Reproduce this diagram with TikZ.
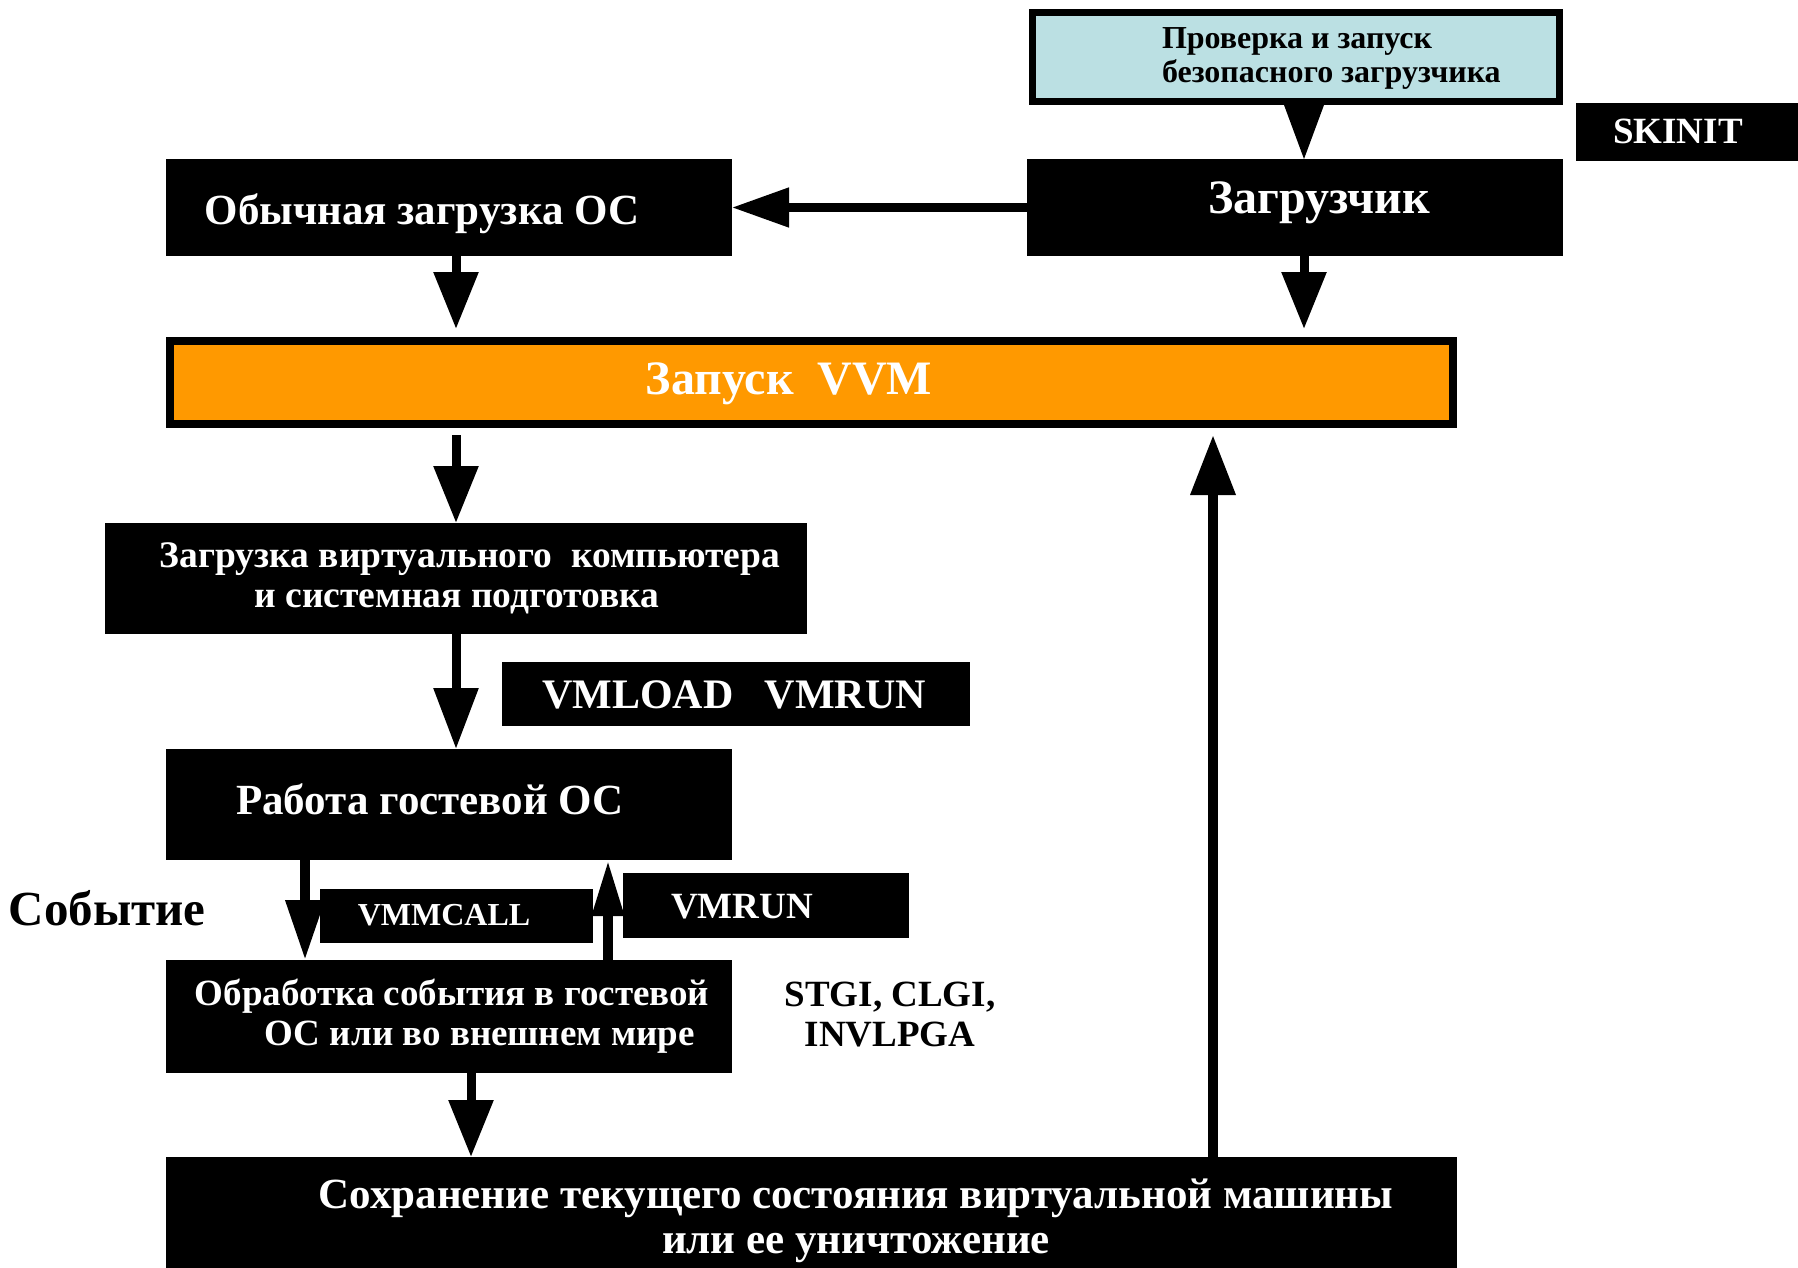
\documentclass[tikz,border=0pt]{standalone}
\usepackage{fontspec}
\setmainfont{Liberation Serif}
\usetikzlibrary{arrows.meta}
\definecolor{cyanbox}{RGB}{187,224,227}
\definecolor{orng}{RGB}{255,153,0}
\begin{document}
\begin{tikzpicture}[x=1pt,y=-1pt,
  box/.style={fill=black, draw=none, inner sep=0pt, outer sep=0pt, anchor=north west},
  wt/.style={text=white, inner sep=0pt, outer sep=0pt},
  bt/.style={text=black, inner sep=0pt, outer sep=0pt},
  arr/.style={line width=9pt, -{Triangle[length=57pt,width=43pt]}},
  fs/.style 2 args={font=\bfseries\fontsize{#1}{#2}\selectfont}
]
\useasboundingbox (0,0) rectangle (1798,1268);

% boxes
\node[box, fill=cyanbox, draw=black, line width=7pt, minimum width=527pt, minimum height=89pt] (cyanb) at (1032.5,12.5) {};
\node[box, minimum width=536pt, minimum height=97pt] (zag) at (1027,159) {};
\node[box, minimum width=566pt, minimum height=97pt] (obos) at (166,159) {};
\node[box, minimum width=222pt, minimum height=58pt] (skinit) at (1576,103) {};
\node[box, fill=orng, draw=black, line width=8pt, minimum width=1283pt, minimum height=83pt] (vvm) at (170,341) {};
\node[box, minimum width=702pt, minimum height=111pt] (zvk) at (105,523) {};
\node[box, minimum width=468pt, minimum height=64pt] (vmload) at (502,662) {};
\node[box, minimum width=566pt, minimum height=111pt] (rabota) at (166,749) {};
\node[box, minimum width=273pt, minimum height=54pt] (vmmcall) at (320,889) {};
\node[box, minimum width=286pt, minimum height=65pt] (vmrun) at (623,873) {};
\node[box, minimum width=566pt, minimum height=113pt] (obr) at (166,960) {};
\node[box, minimum width=1291pt, minimum height=111pt] (sohr) at (166,1157) {};

% texts
\node[bt, fs={32}{34}, align=left, anchor=west] (tcyan) at (1162,58.5) {Проверка и запуск\\безопасного загрузчика};
\node[wt, fs={48}{48}] (tzag) at (1319,203) {Загрузчик};
\node[wt, fs={43}{43}] (tobos) at (422,213.5) {Обычная загрузка ОС};
\node[wt, fs={37}{37}] (tskinit) at (1678,131) {SKINIT};
\node[wt, fs={48}{48}] (tvvm) at (789,384) {Запуск\hspace{0.5em}VVM};
\node[wt, fs={37.5}{40}, align=center] (tzvk) at (470,578.5) {Загрузка виртуального\hspace{0.5em}компьютера\\и системная подготовка\hspace*{26pt}};
\node[wt, fs={42}{42}] (tvmload) at (734,695) {VMLOAD\hspace{0.75em}VMRUN};
\node[wt, fs={43}{43}] (trabota) at (430,799) {Работа гостевой ОС};
\node[wt, fs={32}{32}] (tvmmcall) at (444,915) {VMMCALL};
\node[wt, fs={37}{37}] (tvmrun) at (742,907) {VMRUN};
\node[bt, fs={49}{49}] (tsob) at (107,908) {Событие};
\node[wt, fs={37}{40}, align=center] (tobr) at (452,1016.5) {Обработка события в гостевой\\\hspace{1.5em}ОС или во внешнем мире};
\node[bt, fs={37}{40}, align=center] (tstgi) at (890,1015) {STGI, CLGI,\\INVLPGA};
\node[wt, fs={43}{45}, align=center] (tsohr) at (856,1220.5) {Сохранение текущего состояния виртуальной машины\\или ее уничтожение};

% arrows
\fill ([xshift=-12pt,yshift=-3.5pt]cyanb.south) -- ([xshift=28pt,yshift=-3.5pt]cyanb.south) -- ([xshift=9pt]zag.north) -- cycle;
\draw[line width=8pt, -{Triangle[length=57pt,width=38pt]}] (zag.west) -- (obos.east);
\draw[arr] ([xshift=7pt]obos.south) -- ([xshift=7pt,yshift=12pt]obos.south |- vvm.north);
\draw[arr] ([xshift=9pt]zag.south) -- ([xshift=9pt,yshift=12pt]zag.south |- vvm.north);
\draw[arr] ([yshift=-11pt]zvk.north |- vvm.south) -- (zvk.north);
\draw[arr, -{Triangle[length=61pt,width=43pt]}] (zvk.south) -- (zvk.south |- rabota.north);
\draw[line width=10pt, -{Triangle[length=60pt,width=37pt]}] ([xshift=-144pt]rabota.south) -- ([xshift=-144pt]obr.north);
\draw[line width=10pt, -{Triangle[length=56pt,width=30pt]}] ([xshift=159pt]obr.north) -- ([xshift=159pt]rabota.south);
\draw[arr] ([xshift=22pt]obr.south) -- ([xshift=22pt]obr.south |- sohr.north);
\draw[line width=10pt, -{Triangle[length=60pt,width=43pt]}] ([xshift=401.5pt]sohr.north) -- ([xshift=401.5pt,yshift=-11pt]sohr.north |- vvm.south);
\end{tikzpicture}
\end{document}
